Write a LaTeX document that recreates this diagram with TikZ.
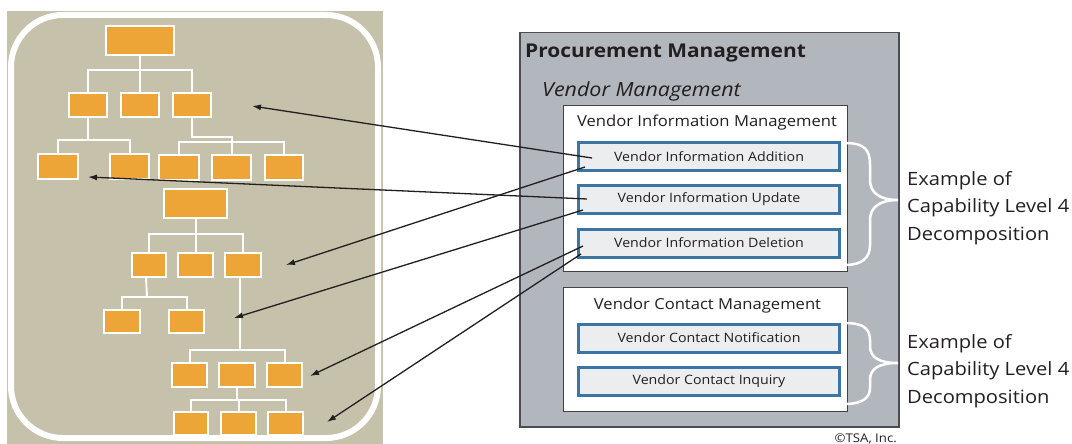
\documentclass[tikz,border=0pt]{standalone}
\usepackage{fontspec}
\setmainfont{Open Sans}[FakeStretch=1.1]
\usetikzlibrary{arrows.meta}
\definecolor{beige}{HTML}{C5C1AA}
\definecolor{orangebox}{HTML}{EEA537}
\definecolor{panelgray}{HTML}{B2B7BE}
\definecolor{boxblue}{HTML}{3B75A3}
\definecolor{boxfill}{HTML}{ECEDEF}
\definecolor{ink}{HTML}{231F20}
\begin{document}
\begin{tikzpicture}[x=1pt,y=-1pt,
  ob/.style={draw=white,line width=1.8pt,fill=orangebox,inner sep=0pt},
  tl/.style={draw=white,line width=2pt},
  capbox/.style={draw=boxblue,line width=3pt,fill=boxfill,inner sep=0pt,minimum width=261pt,minimum height=28pt,text=ink,font=\fontsize{12.9}{14}\selectfont},
  groupbox/.style={draw=ink!85,line width=1.3pt,fill=white,inner sep=0pt,anchor=north west},
  grouptitle/.style={anchor=base,inner sep=0pt,text=ink,font=\fontsize{15.1}{18}\selectfont},
  brace/.style={draw=white,line width=2.5pt},
  link/.style={draw=ink,line width=1.3pt,-{Latex[length=9pt,width=6pt]}},
  exlabel/.style={align=left,anchor=west,text=ink,font=\fontsize{18.3}{27.5}\selectfont,inner sep=0pt}]
\useasboundingbox (0,0) rectangle (1072,444);
% left panel
\fill[beige] (7,11) rectangle (383,444);
\draw[white,line width=6pt,rounded corners=52pt] (11,15) rectangle (378,438);
% top tree
\node[ob,minimum width=68pt,minimum height=29pt] (r1) at (140,40.5) {};
\node[ob,minimum width=38pt,minimum height=24pt] (a1) at (88,105) {};
\node[ob,minimum width=38pt,minimum height=24pt] (a2) at (140,105) {};
\node[ob,minimum width=38pt,minimum height=24pt] (a3) at (192,105) {};
\node[ob,minimum width=40pt,minimum height=25pt] (b1) at (58,166.5) {};
\node[ob,minimum width=39pt,minimum height=25pt] (b2) at (129.5,166.5) {};
\node[ob,minimum width=40pt,minimum height=25pt] (c1) at (179,167.5) {};
\node[ob,minimum width=39pt,minimum height=25pt] (c2) at (231.5,167.5) {};
\node[ob,minimum width=38pt,minimum height=25pt] (c3) at (284,167.5) {};
\draw[tl] (r1.south) -- (r1.south |- 0,70);
\draw[tl] (a1.north) |- (a3.north |- 0,70) -- (a3.north);
\draw[tl] (a2.north) -- (a2.north |- 0,70);
\draw[tl] (a1.south) -- (a1.south |- 0,140);
\draw[tl] (b1.north) |- (b2.north |- 0,140) -- (b2.north);
\draw[tl] (a3.south) |- (c2.north |- 0,137) -- (c2.north);
\draw[tl] (c1.north) |- (c3.north |- 0,142) -- (c3.north);
% second tree
\node[ob,minimum width=63pt,minimum height=29pt] (r2) at (195.5,203.5) {};
\node[ob,minimum width=34pt,minimum height=24pt] (d1) at (149,265) {};
\node[ob,minimum width=35pt,minimum height=24pt] (d2) at (195.5,265) {};
\node[ob,minimum width=36pt,minimum height=24pt] (d3) at (243,265) {};
\node[ob,minimum width=36pt,minimum height=23pt] (e1) at (122,321.5) {};
\node[ob,minimum width=35pt,minimum height=23pt] (e2) at (186.5,321.5) {};
\node[ob,minimum width=35pt,minimum height=24pt] (f1) at (189.5,375) {};
\node[ob,minimum width=36pt,minimum height=24pt] (f2) at (237,375) {};
\node[ob,minimum width=35pt,minimum height=24pt] (f3) at (284.5,375) {};
\node[ob,minimum width=34pt,minimum height=23pt] (g1) at (191,423.5) {};
\node[ob,minimum width=35pt,minimum height=23pt] (g2) at (238.5,423.5) {};
\node[ob,minimum width=35pt,minimum height=23pt] (g3) at (285.5,423.5) {};
\draw[tl] (r2.south) -- (r2.south |- 0,234);
\draw[tl] (d1.north) |- (d3.north |- 0,234) -- (d3.north);
\draw[tl] (d2.north) -- (d2.north |- 0,234);
\draw[tl] ([xshift=-3pt]d1.south) -- (147,297);
\draw[tl] (e1.north) |- (e2.north |- 0,297) -- (e2.north);
\draw[tl] ([xshift=-3pt]d3.south) -- ([xshift=-3pt]d3.south |- 0,350);
\draw[tl] (f1.north) |- (f3.north |- 0,350) -- (f3.north);
\draw[tl] (f2.south) -- (f2.south |- 0,400);
\draw[tl] (g1.north) |- (g3.north |- 0,400) -- (g3.north);
\draw[tl] (g2.north) -- (g2.north |- 0,400);
% right panel
\node[draw=ink!80,line width=1.5pt,fill=panelgray,inner sep=0pt,anchor=north west,minimum width=379pt,minimum height=394pt] (pm) at (519,32) {};
\node[anchor=base west,inner sep=0pt,text=ink,font=\fontsize{19}{22}\selectfont\bfseries] (pmt) at (525,58) {Procurement Management};
\node[anchor=base west,inner sep=0pt,text=ink,font=\fontsize{19.5}{22}\selectfont\itshape] (vmt) at (542,97) {Vendor Management};
\node[groupbox,minimum width=284pt,minimum height=166pt] (vim) at (563,105) {};
\node[grouptitle] (vimt) at (707,127) {Vendor Information Management};
\node[capbox] (via) at (709,156.5) {Vendor Information Addition};
\node[capbox] (viu) at (709,199.5) {Vendor Information Update};
\node[capbox] (vid) at (709,243) {Vendor Information Deletion};
\node[groupbox,minimum width=284pt,minimum height=124pt] (vcm) at (563,287) {};
\node[grouptitle] (vcmt) at (707.5,309) {Vendor Contact Management};
\node[capbox] (vcn) at (709,338) {Vendor Contact Notification};
\node[capbox] (vci) at (709,381.5) {Vendor Contact Inquiry};
% braces
\coordinate (b1t) at (845,143); \coordinate (b1m) at (898,200); \coordinate (b1b) at (845,265);
\draw[brace] (b1t) .. controls (865,143) and (870,150) .. (870,165) -- (870,180)
  .. controls (870,193) and (880,200) .. (b1m)
  .. controls (880,200) and (870,207) .. (870,220) -- (870,245)
  .. controls (870,258) and (862,265) .. (b1b);
\coordinate (b2t) at (845,323); \coordinate (b2m) at (898,363); \coordinate (b2b) at (845,404);
\draw[brace] (b2t) .. controls (865,323) and (870,330) .. (870,340) -- (870,346)
  .. controls (870,358) and (880,363) .. (b2m)
  .. controls (880,363) and (870,368) .. (870,380) -- (870,388)
  .. controls (870,398) and (862,404) .. (b2b);
\node[exlabel] (ex1) at (907,207.7) {Example of\\Capability Level 4\\Decomposition};
\node[exlabel] (ex2) at (907,370.7) {Example of\\Capability Level 4\\Decomposition};
\node[anchor=base east,inner sep=0pt,text=ink,font=\fontsize{12}{14}\selectfont] (cr) at (897,442) {©TSA, Inc.};
% arrows
\coordinate (s1) at (592,158); \coordinate (t1) at (252,106);
\coordinate (s2) at (587,199); \coordinate (t2) at (88,177);
\coordinate (s3) at (585,167); \coordinate (t3) at (286,265);
\coordinate (s4) at (583,210); \coordinate (t4) at (234,318);
\coordinate (s5) at (583,246); \coordinate (t5) at (310,376);
\coordinate (s6) at (581,254); \coordinate (t6) at (327,422);
\draw[link] (s1) -- (t1);
\draw[link] (s2) -- (t2);
\draw[link] (s3) -- (t3);
\draw[link] (s4) -- (t4);
\draw[link] (s5) -- (t5);
\draw[link] (s6) -- (t6);
\end{tikzpicture}
\end{document}
